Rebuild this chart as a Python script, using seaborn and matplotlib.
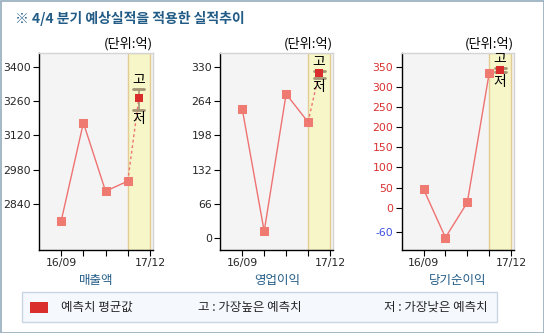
import matplotlib
matplotlib.use("Agg")
import matplotlib.pyplot as plt
from matplotlib.patches import Rectangle
import seaborn as sns
import pandas as pd

# Quarterly actuals and the 4Q consensus (average, high, low)
quarters = ["16/09", "16/12", "17/03", "17/06"]
tick_labels = ["16/09", "", "", "", "17/12"]
metric_names = ["매출액", "영업이익", "당기순이익"]

sales = [2771, 3171, 2892, 2933]
sales_forecast = [3272, 3310, 3222]      # mean, high, low

op_income = [248.6, 13.5, 277.5, 223.6]
op_forecast = [317, 322, 309]

net_income = [46, -74, 13, 334]
net_forecast = [341, 346, 336]

sales_ticks = [2840, 2980, 3120, 3260, 3400]
op_ticks = [0, 66, 132, 198, 264, 330]
net_ticks = [-60, 0, 50, 100, 150, 200, 250, 300, 350]

title = "※ 4/4 분기 예상실적을 적용한 실적추이"
unit_label = "(단위:억)"
legend_items = ["예측치 평균값", "고 : 가장높은 예측치", "저 : 가장낮은 예측치"]

sns.set_theme(style="white")
plt.rcParams["font.family"] = ["Noto Sans CJK KR", "DejaVu Sans"]

LINE = "#ef7272"
MARK = "#ef7a72"
FC = "#d92e2b"
BAND = "#f6f6c9"
BAND_EDGE = "#e3cc93"
CAP = "#a39474"
NAVY = "#225c86"

fig = plt.figure(figsize=(5.44, 3.33), dpi=100)
fig.patch.set_facecolor("white")

W, H = 544, 333
def ax_rect(x0, x1, y0=52.7, y1=250):
    return [x0 / W, (H - y1) / H, (x1 - x0) / W, (y1 - y0) / H]

panels = [
    (ax_rect(39, 153.3), sales, sales_forecast, sales_ticks, (2652, 3457)),
    (ax_rect(220.3, 333.3), op_income, op_forecast, op_ticks, (-22.5, 357)),
    (ax_rect(401.7, 514.3), net_income, net_forecast, net_ticks, (-105, 385)),
]

for i, (rect, actual, fc, yticks, ylim) in enumerate(panels):
    ax = fig.add_axes(rect)
    ax.set_facecolor("#f4f4f4")
    ax.axvspan(3, 4, facecolor=BAND, edgecolor=BAND_EDGE, lw=1.0, zorder=0.5)

    df = pd.DataFrame({"x": range(len(actual)), "value": actual})
    sns.lineplot(data=df, x="x", y="value", ax=ax, color=LINE, lw=1.0,
                 marker="s", markersize=5.6, markerfacecolor=MARK,
                 markeredgecolor=MARK, zorder=3)

    mean, hi, lo = fc
    # dotted link from last actual quarter to the consensus
    link = pd.DataFrame({"x": [3, 3.5], "value": [actual[-1], mean]})
    sns.lineplot(data=link, x="x", y="value", ax=ax, color=LINE, lw=1.0,
                 linestyle=(0, (2, 2)), zorder=3)

    ax.plot([3.5, 3.5], [lo, hi], color=CAP, lw=1.2, zorder=4)
    ax.plot([3.25, 3.75], [hi, hi], color=CAP, lw=2.0, zorder=4)
    ax.plot([3.25, 3.75], [lo, lo], color=CAP, lw=2.0, zorder=4)
    sns.scatterplot(x=[3.5], y=[mean], ax=ax, marker="s", s=26, color=FC,
                    edgecolor=FC, linewidth=0, zorder=5)
    ax.annotate("고", (3.5, hi), xytext=(0, 1.5), textcoords="offset points",
                ha="center", va="bottom", fontsize=10, color="black", zorder=6)
    ax.annotate("저", (3.5, lo), xytext=(0, -1.5), textcoords="offset points",
                ha="center", va="top", fontsize=10, color="black", zorder=6)

    ax.set_xlim(-1, 4.15)
    ax.set_ylim(*ylim)
    ax.set_xticks(range(5))
    ax.set_xticklabels(tick_labels, fontsize=7.8, family="DejaVu Sans")
    ax.set_yticks(yticks)
    ax.set_yticklabels([str(t) for t in yticks], fontsize=7.8, family="DejaVu Sans")
    ax.set_xlabel("")
    ax.set_ylabel("")
    ax.tick_params(axis="both", direction="out", length=4, width=0.8,
                   color="black", pad=2, left=True, bottom=True)
    if i == 2:
        for t, lab in zip(yticks, ax.get_yticklabels()):
            lab.set_color("#3b4fe0" if t < 0 else "#d93030")

    for side in ("left", "bottom"):
        ax.spines[side].set_color("black")
        ax.spines[side].set_linewidth(1.0)
    for side in ("top", "right"):
        ax.spines[side].set_color("#d4d4d4")
        ax.spines[side].set_linewidth(1.0)

    ax.text(1.0, 1.012, unit_label, transform=ax.transAxes, ha="right",
            va="bottom", fontsize=9.5, color="black")
    ax.text(0.5, -0.155, metric_names[i], transform=ax.transAxes, ha="center",
            va="center", fontsize=9, color=NAVY)

fig.text(15 / W, 1 - 18.5 / H, title, ha="left", va="center", fontsize=10,
         fontweight="bold", color=NAVY)

# legend strip
fig.patches.append(Rectangle((22.3 / W, (H - 321.7) / H), 475 / W, 29.4 / H,
                             transform=fig.transFigure, facecolor="#f5f8fd",
                             edgecolor="#c9d5e2", lw=1.0))
fig.patches.append(Rectangle((30 / W, (H - 313.3) / H), 17.7 / W, 11.6 / H,
                             transform=fig.transFigure, facecolor=FC,
                             edgecolor="none"))
ly = 1 - 307.5 / H
fig.text(61 / W, ly, legend_items[0], ha="left", va="center", fontsize=9)
fig.text(198 / W, ly, legend_items[1], ha="left", va="center", fontsize=9)
fig.text(488 / W, ly, legend_items[2], ha="right", va="center", fontsize=9)

# outer frame
fig.patches.append(Rectangle((0.5 / W, 0.5 / H), 543 / W, 332 / H,
                             transform=fig.transFigure, facecolor="none",
                             edgecolor="#93abbb", lw=1.2))

fig.savefig("out.png", dpi=100)
